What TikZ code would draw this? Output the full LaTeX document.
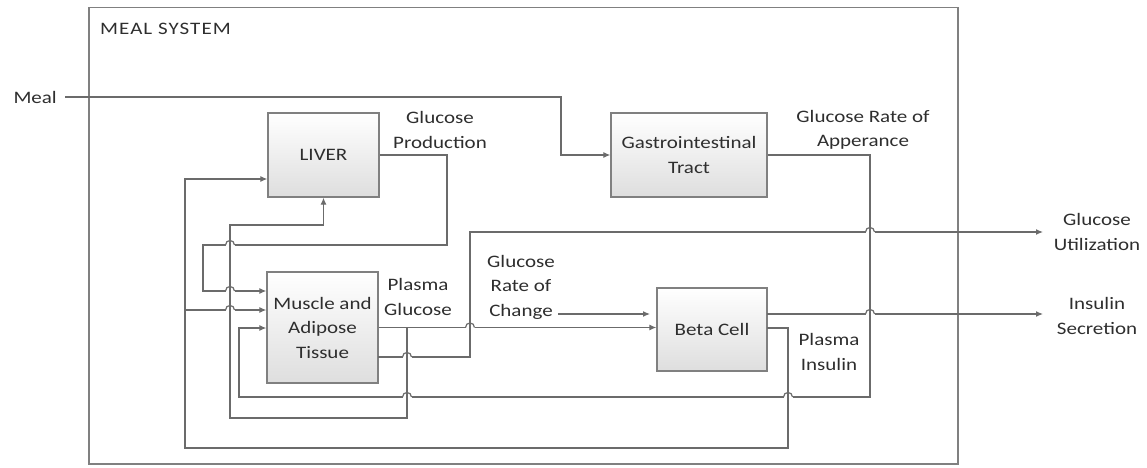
\documentclass[tikz,border=0pt]{standalone}
\usepackage{fontspec}
\setmainfont{Carlito}[FakeStretch=1.2]
\usetikzlibrary{arrows.meta,calc}
\newcommand\hopat[2]{%
  \fill[white] ({#1-4.5},{#2-1.6}) rectangle ({#1+4.5},{#2+1.6});
  \draw[conn] ({#1},{#2-3}) -- ({#1},{#2+3});
  \draw[conn] ({#1-4.5},{#2}) .. controls ({#1-4.5},{#2-6}) and ({#1+4.5},{#2-6}) .. ({#1+4.5},{#2});}
\begin{document}
\begin{tikzpicture}[x=1pt,y=-1pt,
  every node/.style={font=\fontsize{17.5}{24.5}\selectfont, text=black!82, inner sep=0pt, align=center},
  blk/.style={draw=black!50, line width=1.3pt, top color=white, bottom color=black!13},
  conn/.style={draw=black!58, line width=1.2pt},
  arr/.style={conn, -{Latex[length=7pt,width=6pt]}},
  frm/.style={draw=black!50, line width=1.3pt}]
\useasboundingbox (0,0) rectangle (1147,467);
\node[frm, minimum width=869pt, minimum height=456.5pt] (sys) at (523.5,235.75) {};
\node[anchor=west] (title) at (100,29) {\addfontfeature{LetterSpace=6}MEAL SYSTEM};
% blocks
\node[blk, minimum width=111pt, minimum height=84pt] (liver) at (323.5,155) {LIVER};
\node[blk, minimum width=156pt, minimum height=84pt] (gi) at (689,155) {Gastrointestinal\\Tract};
\node[blk, minimum width=111pt, minimum height=111pt] (muscle) at (322.5,327.5) {Muscle and\\Adipose\\Tissue};
\node[blk, minimum width=110pt, minimum height=83pt] (beta) at (712,329.5) {Beta Cell};
% labels
\node[anchor=east] (meal) at (57,97) {Meal};
\node (gp) at (440,130) {Glucose\\Production};
\node (gra) at (863,130) {Glucose Rate of\\Apperance};
\node (pg) at (418,297) {Plasma\\Glucose};
\node (grc) at (521,287) {Glucose\\Rate of\\Change};
\node (pi) at (829,352) {Plasma\\Insulin};
\node (util) at (1097,232) {Glucose\\Utilization};
\node (isec) at (1097,316) {Insulin\\Secretion};
% junction coordinates
\coordinate (a1) at (561,97);
\coordinate (b1) at (870,155);
\coordinate (b2) at (870,397);
\coordinate (b3) at (239,397);
\coordinate (b4) at (239,328);
\coordinate (c1) at (447,155);
\coordinate (c2) at (447,245);
\coordinate (c3) at (203,245);
\coordinate (c4) at (203,291);
\coordinate (d1) at (407,327.5);
\coordinate (d2) at (407,418);
\coordinate (d3) at (230,418);
\coordinate (d4) at (230,225);
\coordinate (e0) at (378,357);
\coordinate (e1) at (470,357);
\coordinate (e2) at (470,232);
\coordinate (e3) at (1043,232);
\coordinate (f0) at (767,314);
\coordinate (f1) at (1043,314);
\coordinate (g0) at (767,328);
\coordinate (g1) at (788,328);
\coordinate (g2) at (788,448);
\coordinate (g3) at (185,448);
\coordinate (g4) at (185,179);
\coordinate (g5) at (185,310);
\coordinate (h0) at (558,314);
\coordinate (h1) at (650,314);
% connectors
\draw[arr] ([xshift=8pt]meal.east) -- (a1) |- (gi.west);
\draw[arr] (gi.east) -- (b1) -- (b2) -- (b3) -- (b4) -- (b4 -| muscle.west);
\draw[arr] (liver.east) -- (c1) -- (c2) -- (c3) -- (c4) -- (c4 -| muscle.west);
\draw[arr] (muscle.east) -- (muscle.east -| beta.west);
\draw[arr] (d1) -- (d2) -- (d3) -- (d4) -- (d4 -| liver.south) -- (liver.south);
\draw[arr] (e0) -- (e1) -- (e2) -- (e3);
\draw[arr] (f0) -- (f1);
\draw[arr] (g0) -- (g1) -- (g2) -- (g3) -- (g4) -- (g4 -| liver.west);
\draw[arr] (g5) -- (g5 -| muscle.west);
\draw[arr] (h0) -- (h1);
% line jumps
\hopat{230}{245}
\hopat{230}{291}
\hopat{230}{310}
\hopat{470}{327.5}
\hopat{407}{357}
\hopat{407}{397}
\hopat{788}{397}
\hopat{870}{232}
\hopat{870}{314}
\end{tikzpicture}
\end{document}
